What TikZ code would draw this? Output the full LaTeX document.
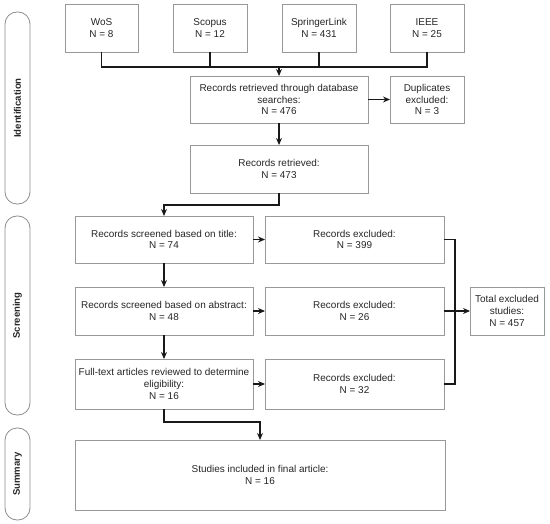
\documentclass[tikz,border=0pt]{standalone}
\usepackage{fontspec}
\setmainfont{Liberation Sans}
\usetikzlibrary{arrows.meta}
\begin{document}
\begin{tikzpicture}[x=1bp,y=-1bp,
  box/.style={draw=black!40,line width=0.8pt,inner sep=1pt,outer sep=0pt,align=center,
    font=\fontsize{10}{11.7}\selectfont,text=black!85},
  lane/.style={draw=black!45,line width=0.8pt,rounded corners=12bp,inner sep=0pt,outer sep=0pt,minimum width=25bp},
  lanelabel/.style={rotate=90,font=\fontsize{9.6}{11}\selectfont\bfseries,text=black!85},
  conn/.style={line width=1.1pt,black!90},
  arr/.style={conn,-{Stealth[length=7pt,width=6pt]}}]
\useasboundingbox (0,0) rectangle (550,524);
% lanes
\node[lane,minimum height=192bp] (lid) at (17.5,108) {};
\node[lanelabel] (lidt) at (lid.center) {Identification};
\node[lane,minimum height=199bp] (lsc) at (17.5,315.5) {};
\node[lanelabel] (lsct) at (lsc.center) {Screening};
\node[lane,minimum height=92bp] (lsu) at (17.5,474) {};
\node[lanelabel] (lsut) at (lsu.center) {Summary};
% boxes
\node[box,minimum width=73bp,minimum height=48bp] (wos) at (101.5,28) {WoS\\N = 8};
\node[box,minimum width=74bp,minimum height=48bp] (sco) at (210,28) {Scopus\\N = 12};
\node[box,minimum width=74bp,minimum height=48bp] (spr) at (319,28) {SpringerLink\\N = 431};
\node[box,minimum width=74bp,minimum height=48bp] (iee) at (427,28) {IEEE\\N = 25};
\node[box,minimum width=178bp,minimum height=47bp] (rdb) at (279,99.5) {Records retrieved through database\\searches:\\N = 476};
\node[box,minimum width=74bp,minimum height=47bp] (dup) at (427,99.5) {Duplicates\\excluded:\\N = 3};
\node[box,minimum width=178bp,minimum height=48bp] (rret) at (279,169) {Records retrieved:\\N = 473};
\node[box,minimum width=178bp,minimum height=47bp] (tit) at (164,239.5) {Records screened based on title:\\N = 74};
\node[box,minimum width=179bp,minimum height=47bp] (ex1) at (354.5,239.5) {Records excluded:\\N = 399};
\node[box,minimum width=178bp,minimum height=48bp] (abs) at (164,311) {Records screened based on abstract:\\N = 48};
\node[box,minimum width=179bp,minimum height=48bp] (ex2) at (354.5,311) {Records excluded:\\N = 26};
\node[box,minimum width=178bp,minimum height=50bp] (ful) at (164,384) {Full-text articles reviewed to determine\\eligibility:\\N = 16};
\node[box,minimum width=179bp,minimum height=50bp] (ex3) at (354.5,384) {Records excluded:\\N = 32};
\node[box,minimum width=74bp,minimum height=48bp] (tot) at (507,311) {Total excluded\\studies:\\N = 457};
\node[box,minimum width=370bp,minimum height=70bp] (sum) at (260,475) {Studies included in final article:\\N = 16};
% connectors
\coordinate (busl) at (101.5,67);
\coordinate (busr) at (427,67);
\draw[conn] (wos.south) -- (busl) -- (busr) -- (iee.south);
\draw[conn] (sco.south) -- (sco.south |- busl);
\draw[conn] (spr.south) -- (spr.south |- busl);
\draw[arr] (rdb.north |- busl) -- (rdb.north);
\draw[arr] (rdb.east) -- (dup.west);
\draw[arr] (rdb.south) -- (rret.north);
\coordinate (k1) at (279,205);
\draw[arr] (rret.south) -- (k1) -- (k1 -| tit.north) -- (tit.north);
\draw[arr] (tit.south) -- (abs.north);
\draw[arr] (abs.south) -- (ful.north);
\draw[arr] (tit.east) -- (ex1.west);
\draw[arr] (abs.east) -- (ex2.west);
\draw[arr] (ful.east) -- (ex3.west);
\coordinate (rb) at (455,239.5);
\draw[conn] (ex1.east) -- (rb) -- (rb |- ex3.east) -- (ex3.east);
\draw[arr] (ex2.east) -- (tot.west);
\coordinate (k2) at (164,422);
\draw[arr] (ful.south) -- (k2) -- (k2 -| sum.north) -- (sum.north);
\end{tikzpicture}
\end{document}
